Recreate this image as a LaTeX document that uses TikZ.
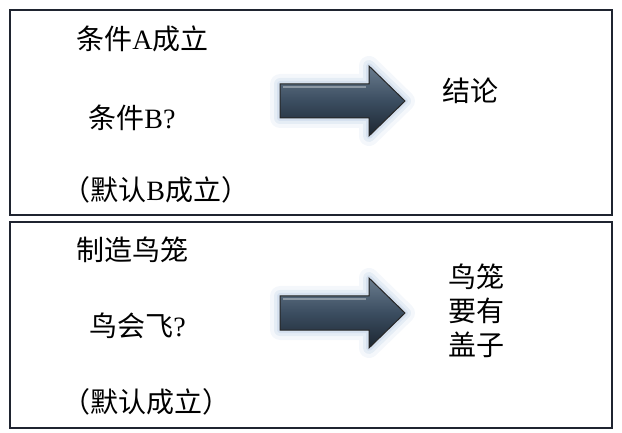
\documentclass[tikz,border=0pt]{standalone}
\usepackage{fontspec}
\setmainfont{Liberation Serif}
\newfontfamily\cjk{Noto Sans CJK SC}
\definecolor{framecol}{HTML}{1F2430}
\definecolor{arrowtop}{HTML}{6A7C8E}
\definecolor{arrowmid}{HTML}{3B4D60}
\definecolor{arrowbot}{HTML}{1C2631}
\definecolor{glowcol}{HTML}{B8CCE4}
\begin{document}
\begin{tikzpicture}[
    x=0.5pt, y=-0.5pt,
    panel/.style={draw=framecol, line width=1pt},
    txt/.style={font=\fontsize{14}{17}\selectfont, inner sep=0pt, anchor=west},
    blockarrow/.style={draw=black!85, line width=0.5pt, line join=miter,
      top color=arrowtop, bottom color=arrowbot, middle color=arrowmid}
]
  \useasboundingbox (0,0) rectangle (622,433);

  % panels
  \draw[panel] (10,10) rectangle (612,215);
  \draw[panel] (10,222) rectangle (612,428);

  % top panel texts
  \node[txt] (condA) at (76,39)  {{\cjk 条件}A{\cjk 成立}};
  \node[txt] (condB) at (88,118) {{\cjk 条件}B?};
  \node[txt] (dfltB) at (62,190) {{\cjk （默认}B{\cjk 成立）}};
  \node[txt] (concl) at (442,91) {\cjk 结论};

  % bottom panel texts
  \node[txt] (cage)  at (76,250) {\cjk 制造鸟笼};
  \node[txt] (fly)   at (89,326) {{\cjk 鸟会飞}?};
  \node[txt] (dflt)  at (62,402) {\cjk （默认成立）};
  \node[txt, align=left] (lid) at (448,311) {\cjk 鸟笼\\ \cjk 要有\\ \cjk 盖子};

  % shaded block arrows with a soft glow
  \foreach \yc in {101,313}{
    \foreach \w/\o in {10/0.15,6/0.25,3/0.35}
      \draw[glowcol, line width=\w pt, opacity=\o, line join=round]
        (280,\yc-17) -- (369,\yc-17) -- (369,\yc-35) -- (405,\yc)
        -- (369,\yc+35) -- (369,\yc+17) -- (280,\yc+17) -- cycle;
    \draw[blockarrow]
      (280,\yc-17) -- (369,\yc-17) -- (369,\yc-35) -- (405,\yc)
      -- (369,\yc+35) -- (369,\yc+17) -- (280,\yc+17) -- cycle;
    \draw[white, opacity=0.35, line width=0.6pt]
      (283,\yc-14) -- (366,\yc-14);
  }
\end{tikzpicture}
\end{document}
